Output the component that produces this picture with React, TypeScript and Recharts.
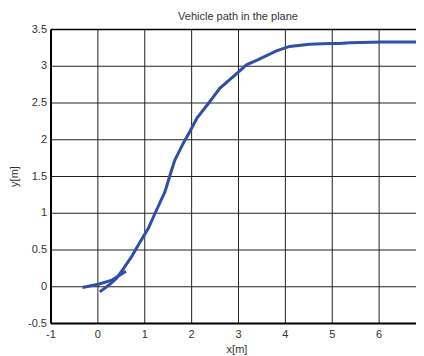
import React from "react";
import { LineChart, Line, XAxis, YAxis, CartesianGrid, ReferenceLine } from "recharts";

const xTicks = [-1, 0, 1, 2, 3, 4, 5, 6, 7];
const yTicks = [-0.5, 0, 0.5, 1, 1.5, 2, 2.5, 3, 3.5];

const startX = [-0.33, 0.01, 0.3, 0.6];
const startY = [-0.01, 0.035, 0.09, 0.21];

const pathX = [0.04, 0.23, 0.4, 0.56, 0.72, 0.9, 1.08, 1.22, 1.43, 1.55, 1.64, 1.82, 1.96, 2.11, 2.39, 2.6, 2.96, 3.17, 3.42, 3.81, 4.09, 4.52, 4.94, 5.15, 5.37, 6.08, 6.85];
const pathY = [-0.07, 0.02, 0.115, 0.26, 0.41, 0.61, 0.8, 1.0, 1.29, 1.54, 1.72, 1.95, 2.11, 2.29, 2.52, 2.7, 2.9, 3.02, 3.09, 3.21, 3.27, 3.3, 3.31, 3.31, 3.32, 3.33, 3.33];

const startData = startX.map((x, i) => ({ x, y: startY[i] }));
const pathData = pathX.map((x, i) => ({ x, y: pathY[i] }));

const FONT = "Arial, 'Liberation Sans', sans-serif";
const TXT = "#333";

const XTick = (props: any) => (
  <text x={props.x} y={330} textAnchor="middle" fontSize={11} fontFamily={FONT} fill={TXT}>
    {props.payload.value}
  </text>
);

const YTick = (props: any) => (
  <text x={39} y={props.y + 3} textAnchor="end" fontSize={11} fontFamily={FONT} fill={TXT}>
    {props.payload.value}
  </text>
);

export default function App() {
  return (
    <div style={{ position: "relative", width: 416, height: 348, overflow: "hidden" }}>
      <LineChart width={430} height={348} margin={{ top: 21.5, right: 12, bottom: 0, left: 0 }}>
        <CartesianGrid stroke="#222" strokeWidth={1} />
        <XAxis
          type="number"
          dataKey="x"
          domain={[-1, 7]}
          ticks={xTicks}
          allowDataOverflow
          height={32.5}
          tick={<XTick />}
          tickLine={false}
          axisLine={{ stroke: "#000", strokeWidth: 2 }}
        />
        <YAxis
          type="number"
          dataKey="y"
          domain={[-0.5, 3.5]}
          ticks={yTicks}
          allowDataOverflow
          width={43}
          tick={<YTick />}
          tickLine={false}
          axisLine={{ stroke: "#000", strokeWidth: 2 }}
        />
        <ReferenceLine y={3.5} stroke="#000" strokeWidth={1.5} />
        <Line data={startData} dataKey="y" stroke="#3050a8" strokeWidth={3} dot={false} isAnimationActive={false} />
        <Line data={pathData} dataKey="y" stroke="#3050a8" strokeWidth={3} dot={false} isAnimationActive={false} />
      </LineChart>
      <svg width={416} height={348} style={{ position: "absolute", left: 0, top: 0, pointerEvents: "none" }}>
        <text x={230} y={12} textAnchor="middle" fontSize={11} fontFamily={FONT} fill={TXT}>
          Vehicle path in the plane
        </text>
        <text x={229} y={345} textAnchor="middle" fontSize={11} fontFamily={FONT} fill={TXT}>
          x[m]
        </text>
        <text x={10} y={168.5} textAnchor="middle" fontSize={11} fontFamily={FONT} fill={TXT} transform="rotate(-90, 10, 168.5)">
          y[m]
        </text>
      </svg>
    </div>
  );
}
